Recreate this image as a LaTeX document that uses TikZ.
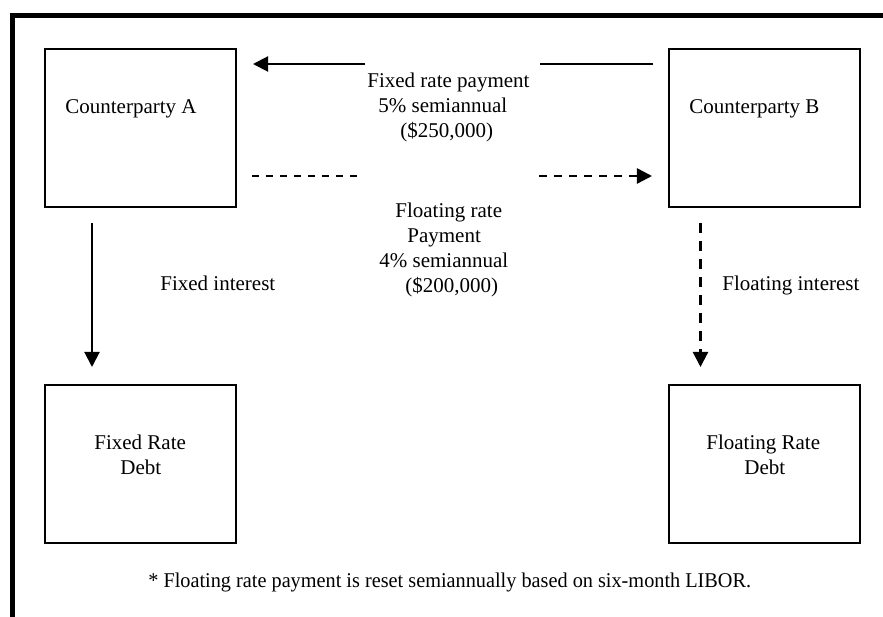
\documentclass[tikz,border=0pt]{standalone}
\usepackage{fontspec}
\setmainfont{Liberation Serif}
\usetikzlibrary{arrows.meta}
\begin{document}
\begin{tikzpicture}[x=0.5714pt, y=-0.5714pt,
  box/.style={draw, line width=1.1pt, minimum width=109.1pt, minimum height=90.3pt, inner sep=0pt},
  lbl/.style={anchor=base west, inner sep=0pt, font=\fontsize{12pt}{14pt}\selectfont},
  tip/.style={-{Triangle[length=8.6pt, width=8.6pt]}},
  solidline/.style={line width=1.15pt},
  thindash/.style={line width=0.85pt, dash pattern=on 4pt off 4pt},
  thickdash/.style={line width=1.4pt, dash pattern=on 4.6pt off 4pt},
  vdash/.style={line width=1.3pt, dash pattern=on 5.7pt off 4.6pt}]
\useasboundingbox (0,0) rectangle (883,617);

% outer frame: top and left edges only
\draw[line width=2.86pt, line join=miter] (883,15.5) -- (12.5,15.5) -- (12.5,617);

% boxes
\node[box] (ca)  at (140.5,128) {};
\node[box] (cb)  at (764.5,128) {};
\node[box] (fd)  at (140.5,464) {};
\node[box] (fld) at (764.5,464) {};

% box texts
\node[lbl] (ta)   at (65,114)  {Counterparty A};
\node[lbl] (tb)   at (689,114) {Counterparty B};
\node[lbl] (tfd1) at (94,450)  {Fixed Rate};
\node[lbl] (tfd2) at (120,475) {Debt};
\node[lbl] (tfl1) at (706,450) {Floating Rate};
\node[lbl] (tfl2) at (744,475) {Debt};

% payment texts
\node[lbl] (p1) at (367,88)  {Fixed rate payment};
\node[lbl] (p2) at (378,113) {5\% semiannual};
\node[lbl] (p3) at (400,138) {(\$250,000)};
\node[lbl] (q1) at (395,218) {Floating rate};
\node[lbl] (q2) at (407,243) {Payment};
\node[lbl] (q3) at (379,268) {4\% semiannual};
\node[lbl] (q4) at (405,293) {(\$200,000)};

\node[lbl] (fi)  at (160,291) {Fixed interest};
\node[lbl] (fli) at (722,291) {Floating interest};

\node[lbl, xscale=0.965] (note) at (148,588) {* Floating rate payment is reset semiannually based on six-month LIBOR.};

% connector end points
\coordinate (fxa) at (253,64);
\coordinate (fxb) at (365,64);
\coordinate (fxc) at (540,64);
\coordinate (fxd) at (653,64);
\coordinate (fla) at (252,176);
\coordinate (flb) at (357,176);
\coordinate (flc) at (539,176);
\coordinate (fld2) at (652,176);
\coordinate (va1) at (92,223);
\coordinate (va2) at (92,367);
\coordinate (vb1) at (700.5,223);
\coordinate (vb2) at (700.5,367);

% fixed rate payment (B to A)
\draw[solidline] (fxd) -- (fxc);
\draw[solidline, tip] (fxb) -- (fxa);
% floating rate payment (A to B)
\draw[thindash] (fla) -- (flb);
\draw[thickdash, tip] (flc) -- (fld2);
% interest flows to debt
\draw[solidline, tip] (va1) -- (va2);
\draw[vdash, tip] (vb1) -- (vb2);
\end{tikzpicture}
\end{document}
